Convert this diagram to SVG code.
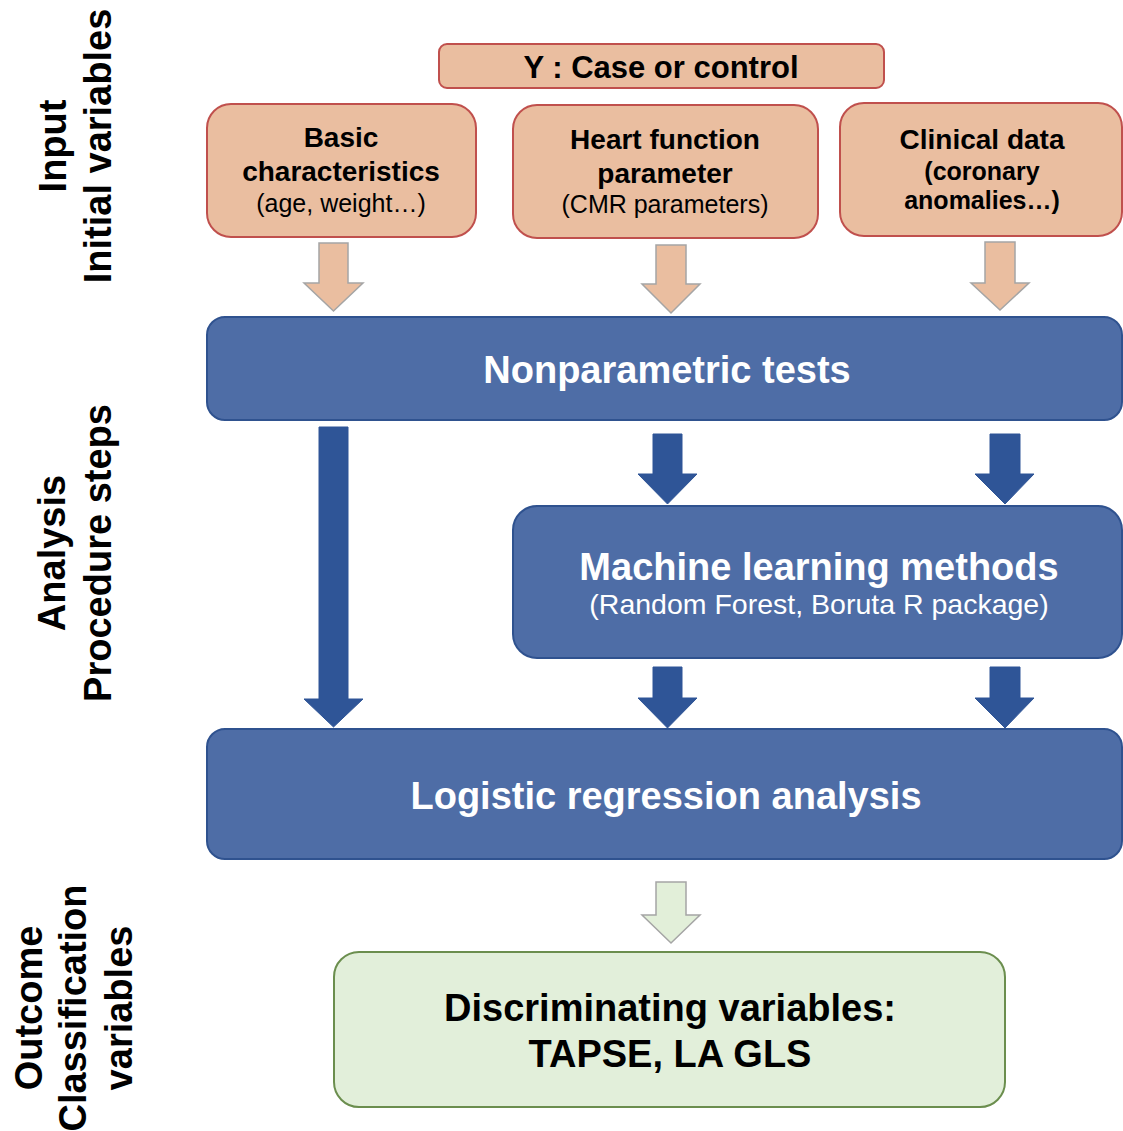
<svg xmlns="http://www.w3.org/2000/svg" width="1123" height="1131" viewBox="0 0 1123 1131">
<style>
text{font-family:"Liberation Sans",Arial,sans-serif;text-anchor:middle}
.b{font-weight:bold}
.side{font-weight:bold;font-size:38px;fill:#000}
.peach{fill:#EABEA0;stroke:#C0504D;stroke-width:2}
.blue{fill:#4E6DA6;stroke:#2F528F;stroke-width:2}
.green{fill:#E2EFDA;stroke:#6B8E4E;stroke-width:2}
.pa{fill:#EABEA0;stroke:#A5A5A5;stroke-width:1.5}
.ba{fill:#2F5597;stroke:#2F5597;stroke-width:1}
.ga{fill:#E2EFD9;stroke:#A5A5A5;stroke-width:1.5}
.dark{fill:#000}
.white{fill:#fff}
</style>
<rect width="1123" height="1131" fill="#fff"/>
<g id="side-labels">
<text class="side" transform="translate(66,146) rotate(-90)">Input</text>
<text class="side" transform="translate(111,146) rotate(-90)">Initial variables</text>
<text class="side" transform="translate(65,553) rotate(-90)">Analysis</text>
<text class="side" transform="translate(111,553) rotate(-90)">Procedure steps</text>
<text class="side" transform="translate(42,1008) rotate(-90)">Outcome</text>
<text class="side" transform="translate(86,1008) rotate(-90)">Classification</text>
<text class="side" transform="translate(132,1008) rotate(-90)">variables</text>
</g>
<g id="node-y">
<rect class="peach" x="439" y="44" width="445" height="44" rx="8"/>
<text class="b dark" x="661" y="78" font-size="31">Y : Case or control</text>
</g>
<g id="node-basic">
<rect class="peach" x="207" y="104" width="269" height="133" rx="24"/>
<text class="b dark" x="341" y="147" font-size="28">Basic</text>
<text class="b dark" x="341" y="181" font-size="28">characteristics</text>
<text class="dark" x="341" y="212" font-size="25">(age, weight…)</text>
</g>
<g id="node-heart">
<rect class="peach" x="513" y="105" width="305" height="133" rx="24"/>
<text class="b dark" x="665" y="149" font-size="28">Heart function</text>
<text class="b dark" x="665" y="183" font-size="28">parameter</text>
<text class="dark" x="665" y="213" font-size="25">(CMR parameters)</text>
</g>
<g id="node-clinical">
<rect class="peach" x="840" y="103" width="282" height="133" rx="24"/>
<text class="b dark" x="982" y="149" font-size="28">Clinical data</text>
<text class="b dark" x="982" y="180" font-size="25">(coronary</text>
<text class="b dark" x="982" y="209" font-size="25">anomalies…)</text>
</g>
<g id="node-nonparam">
<rect class="blue" x="207" y="317" width="915" height="103" rx="18"/>
<text class="b white" x="667" y="383" font-size="38">Nonparametric tests</text>
</g>
<g id="node-ml">
<rect class="blue" x="513" y="506" width="609" height="152" rx="24"/>
<text class="b white" x="819" y="580" font-size="38">Machine learning methods</text>
<text class="white" x="819" y="614" font-size="28.5">(Random Forest, Boruta R package)</text>
</g>
<g id="node-logistic">
<rect class="blue" x="207" y="729" width="915" height="130" rx="18"/>
<text class="b white" x="666" y="809" font-size="38">Logistic regression analysis</text>
</g>
<g id="node-result">
<rect class="green" x="334" y="952" width="671" height="155" rx="25"/>
<text class="b dark" x="670" y="1021" font-size="38">Discriminating variables:</text>
<text class="b dark" x="670" y="1067" font-size="38">TAPSE, LA GLS</text>
</g>
<g id="connectors">
<polygon class="pa" points="319,243 348,243 348,283 363,283 333.5,311 304,283 319,283"/>
<polygon class="pa" points="656,245 686,245 686,284 700,284 671,313 642,284 656,284"/>
<polygon class="pa" points="985,242 1015,242 1015,283 1029,283 1000,310 971,283 985,283"/>
<polygon class="ba" points="319,427 348,427 348,699 363,699 333.5,727 304,699 319,699"/>
<polygon class="ba" points="653,434 682,434 682,474 697,474 667.5,504 638,474 653,474"/>
<polygon class="ba" points="990,434 1020,434 1020,474 1034,474 1005,504 975,474 990,474"/>
<polygon class="ba" points="653,667 682,667 682,698 697,698 667.5,728 638,698 653,698"/>
<polygon class="ba" points="990,667 1020,667 1020,698 1034,698 1005,728 975,698 990,698"/>
<polygon class="ga" points="656,882 686,882 686,915 700,915 671,943 642,915 656,915"/>
</g>
</svg>
